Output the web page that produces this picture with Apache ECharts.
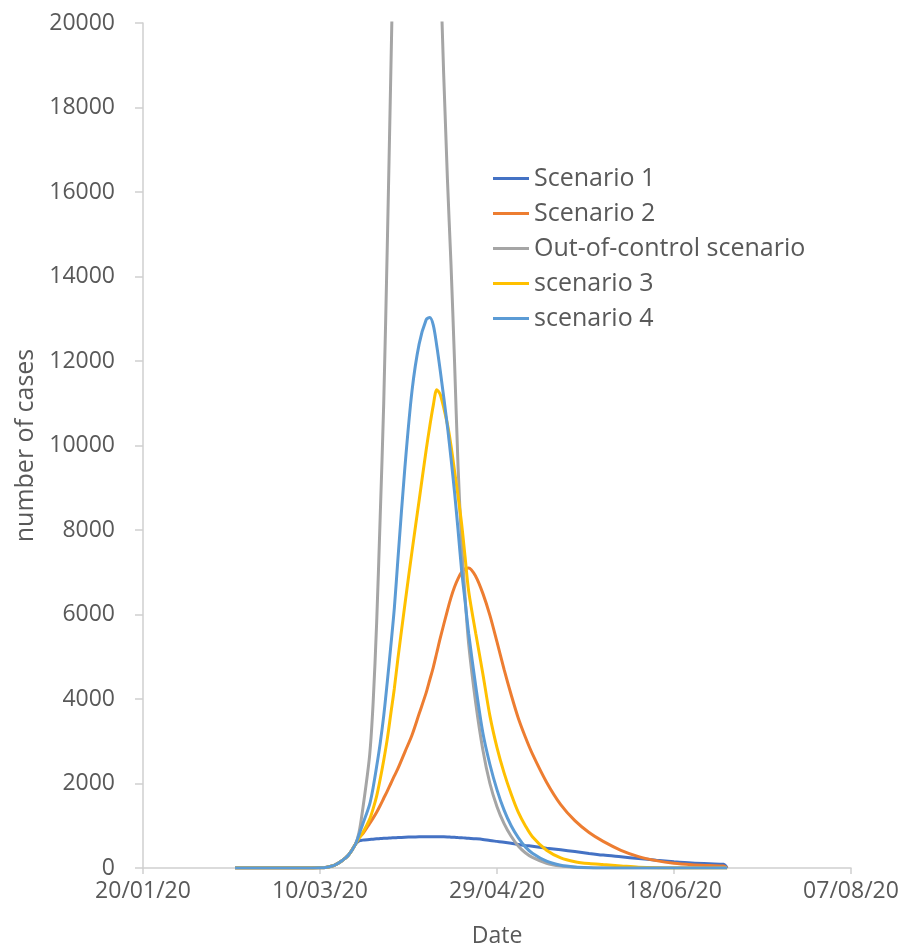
<!DOCTYPE html>
<html>
<head>
<meta charset="utf-8">
<script src="https://cdn.jsdelivr.net/npm/echarts@6/dist/echarts.min.js"></script>
<style>
html,body{margin:0;padding:0;background:#ffffff;}
#chart{width:901px;height:948px;}
</style>
</head>
<body>
<div id="chart"></div>
<script>
// ---- data ----
const dates = [
  '2020-02-15','2020-02-24','2020-03-05','2020-03-10','2020-03-12','2020-03-14','2020-03-16','2020-03-18',
  '2020-03-20','2020-03-21','2020-03-22','2020-03-24','2020-03-25','2020-03-26','2020-03-27','2020-03-28',
  '2020-03-29','2020-03-30','2020-03-31','2020-04-01','2020-04-03','2020-04-05','2020-04-07','2020-04-09',
  '2020-04-10','2020-04-11','2020-04-12','2020-04-13','2020-04-15','2020-04-16','2020-04-17','2020-04-18',
  '2020-04-19','2020-04-20','2020-04-21','2020-04-23','2020-04-25','2020-04-27','2020-04-29','2020-05-01',
  '2020-05-03','2020-05-05','2020-05-07','2020-05-09','2020-05-13','2020-05-17','2020-05-21','2020-05-25',
  '2020-05-29','2020-06-03','2020-06-08','2020-06-13','2020-06-18','2020-06-23','2020-06-28','2020-07-02',
  '2020-07-03'
];
const scenario1 = [
  0,0,0,5,20,60,160,300,
  560,640,660,675,682,690,696,702,
  707,712,716,720,728,734,738,740,
  741,741,740,739,734,730,726,721,
  716,710,704,692,676,650,630,610,
  585,555,535,515,470,430,390,345,
  305,265,225,185,150,120,100,88,
  0
];
const scenario2 = [
  0,0,0,5,20,60,160,300,
  560,720,800,1050,1180,1320,1480,1650,
  1820,2000,2180,2350,2750,3150,3650,4150,
  4450,4750,5100,5450,6100,6400,6650,6850,
  7000,7080,7100,6900,6500,5980,5350,4700,
  4100,3550,3100,2700,2030,1500,1120,840,
  630,420,270,175,112,78,58,45,
  0
];
const outOfControl = [
  0,0,0,5,20,60,160,300,
  560,830,1350,2650,3900,5800,8300,11000,
  14700,18800,23000,27500,36000,42000,45000,42000,
  38000,32000,26000,21300,16300,14300,12000,9500,
  7700,6400,5300,3900,2800,2000,1450,1050,
  750,520,360,250,110,45,18,5,
  0,0,0,0,0,0,0,0,
  0
];
const scenario3 = [
  0,0,0,5,20,60,160,300,
  560,700,820,1150,1400,1700,2100,2550,
  3050,3650,4250,4950,6250,7500,8700,9900,
  10450,10950,11320,11200,10500,10000,9400,8800,
  8150,7350,6550,5550,4600,3600,2850,2250,
  1750,1320,1000,740,420,240,150,105,
  80,50,20,5,0,0,0,0,
  0
];
const scenario4 = [
  0,0,0,5,20,60,160,300,
  560,780,1020,1500,1900,2400,2950,3600,
  4400,5250,6150,7300,9500,11300,12400,12980,
  13030,12850,12350,11750,10450,9700,8900,8000,
  7050,6300,5550,4300,3200,2450,1850,1370,
  1000,720,500,350,160,65,25,8,
  0,0,0,0,0,0,0,0,
  0
];
const seriesNames = ['Scenario 1','Scenario 2','Out-of-control scenario','scenario 3','scenario 4'];
const seriesColors = ['#4472C4','#ED7D31','#A5A5A5','#FFC000','#5B9BD5'];
const xTickLabels = ['20/01/20','10/03/20','29/04/20','18/06/20','07/08/20'];
const yTickStep = 2000;

// ---- build ----
const BASE = Date.UTC(2020,0,20);
const DAY = 86400000;
function dayOffset(s){
  const p = s.split('-').map(Number);
  return (Date.UTC(p[0],p[1]-1,p[2]) - BASE)/DAY;
}
const xDays = dates.map(dayOffset);
const allValues = [scenario1, scenario2, outOfControl, scenario3, scenario4];
const FONT = '"Open Sans", "DejaVu Sans", sans-serif';
const TEXT = '#595959';
const AXIS = '#CFCFCF';

const chart = echarts.init(document.getElementById('chart'), null, {renderer:'canvas'});
chart.setOption({
  animation:false,
  backgroundColor:'#ffffff',
  grid:{left:143, right:50, top:23, bottom:80, containLabel:false, outerBoundsMode:'none'},
  legend:{
    orient:'vertical',
    left:493, top:161, padding:0,
    icon:'rect',
    itemWidth:36, itemHeight:3, itemGap:0,
    textStyle:{color:TEXT, fontSize:25, fontFamily:FONT, lineHeight:35},
    data:seriesNames
  },
  xAxis:{
    type:'value', min:0, max:200, interval:50,
    name:'Date', nameLocation:'middle', nameGap:57,
    nameTextStyle:{color:TEXT, fontSize:23, fontFamily:FONT},
    axisLine:{lineStyle:{color:AXIS, width:1.5}},
    axisTick:{show:true, length:6, lineStyle:{color:AXIS, width:1.5}},
    axisLabel:{color:TEXT, fontSize:23, fontFamily:FONT, margin:12,
      formatter:function(v){ return xTickLabels[Math.round(v/50)] || ''; }},
    splitLine:{show:false}
  },
  yAxis:{
    type:'value', min:0, max:20000, interval:yTickStep,
    name:'number of cases', nameLocation:'middle', nameGap:92,
    nameTextStyle:{color:TEXT, fontSize:25, fontFamily:FONT},
    axisLine:{show:true, lineStyle:{color:AXIS, width:1.5}},
    axisTick:{show:true, length:8, lineStyle:{color:AXIS, width:1.5}},
    axisLabel:{color:TEXT, fontSize:23, fontFamily:FONT, margin:28,
      formatter:function(v){ return String(v); }},
    splitLine:{show:false}
  },
  series: seriesNames.map(function(name,i){
    return {
      name:name, type:'line', symbol:'none', smooth:0.3, clip:true,
      color:seriesColors[i],
      itemStyle:{color:seriesColors[i]},
      lineStyle:{color:seriesColors[i], width:3},
      data: xDays.map(function(d,j){ return [d, allValues[i][j]]; })
    };
  })
});
</script>
</body>
</html>
